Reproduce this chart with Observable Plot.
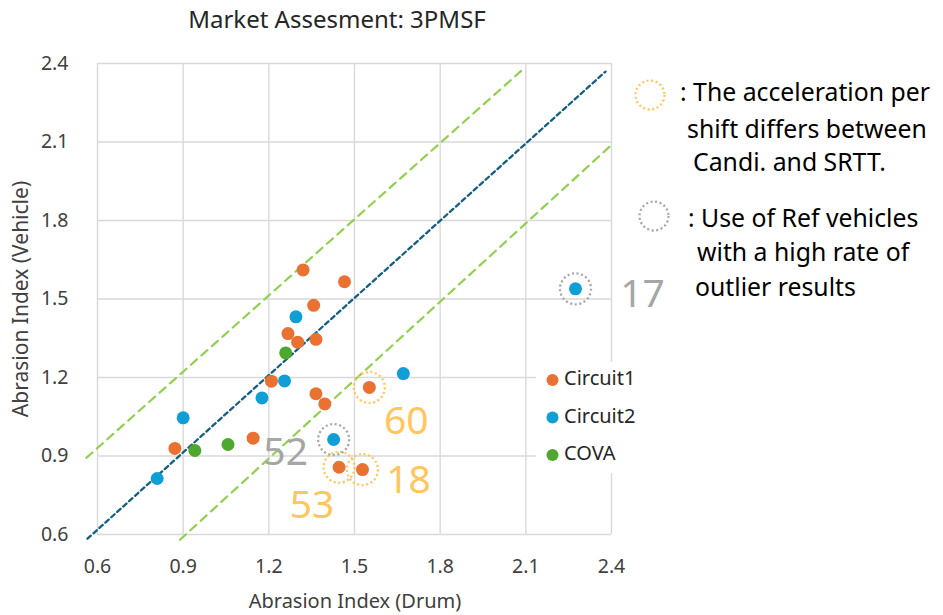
<!DOCTYPE html>
<html>
<head>
<meta charset="utf-8">
<script src="https://cdn.jsdelivr.net/npm/d3@7"></script>
<script src="https://cdn.jsdelivr.net/npm/@observablehq/plot@0.6"></script>
<style>
  html, body { margin: 0; padding: 0; background: #fff; }
  #chart { width: 943px; height: 615px; }
</style>
</head>
<body>
<div id="chart"></div>
<script>
// ---- data ----
const seriesNames = ["Circuit1", "Circuit2", "COVA"];
const seriesColors = ["#E97132", "#0F9ED5", "#4EA72E"];

const circuit1X = [1.32, 1.465, 1.357, 1.267, 1.301, 1.365, 1.209, 1.365, 1.396, 1.552, 1.145, 0.871, 1.446, 1.528];
const circuit1Y = [1.611, 1.566, 1.476, 1.368, 1.335, 1.346, 1.186, 1.138, 1.099, 1.162, 0.968, 0.929, 0.857, 0.848];

const circuit2X = [1.295, 1.255, 1.176, 0.90, 0.809, 1.427, 1.671, 2.274];
const circuit2Y = [1.432, 1.187, 1.122, 1.046, 0.814, 0.963, 1.215, 1.539];

const covaX = [1.259, 1.057, 0.941];
const covaY = [1.294, 0.944, 0.921];

const tickValues = [0.6, 0.9, 1.2, 1.5, 1.8, 2.1, 2.4];

// reference lines (end points)
const diagX = [0.565, 2.379], diagY = [0.584, 2.369];
const upperX = [0.561, 2.085], upperY = [0.893, 2.373];
const lowerX = [0.889, 2.397], lowerY = [0.580, 2.086];

// annotated points
const annotIds = ["60", "18", "53", "52", "17"];
const annotX = [1.552, 1.528, 1.446, 1.427, 2.274];
const annotY = [1.162, 0.848, 0.857, 0.963, 1.539];
const annotKind = ["accel", "accel", "accel", "outlier", "outlier"];

const titleText = "Market Assesment: 3PMSF";
const xTitle = "Abrasion Index (Drum)";
const yTitle = "Abrasion Index (Vehicle)";
const noteAccel = [": The acceleration per", "shift differs between", "Candi. and SRTT."];
const noteOutlier = [": Use of Ref vehicles", "with a high rate of", "outlier results"];

// ---- build tables ----
const points = [
  ...circuit1X.map((x, i) => ({x, y: circuit1Y[i], series: "Circuit1"})),
  ...circuit2X.map((x, i) => ({x, y: circuit2Y[i], series: "Circuit2"})),
  ...covaX.map((x, i) => ({x, y: covaY[i], series: "COVA"}))
];
const line = (xs, ys) => xs.map((x, i) => ({x, y: ys[i]}));
const annots = annotIds.map((id, i) => ({id, x: annotX[i], y: annotY[i], kind: annotKind[i]}));

const ACCEL = "#FFC65C";
const OUTL = "#A6A6A6";
const FONT = "'Noto Sans', 'Open Sans', sans-serif";

const labelOffsets = {"60": [37, 34], "18": [46, 11], "53": [-27, 38], "52": [-48, 13], "17": [67, 6]};

const svg = Plot.plot({
  width: 943,
  height: 615,
  marginLeft: 97,
  marginRight: 332,
  marginTop: 63,
  marginBottom: 81,
  style: {fontFamily: FONT, background: "#fff", overflow: "visible"},
  x: {domain: [0.6, 2.4], label: null},
  y: {domain: [0.6, 2.4], label: null},
  color: {domain: seriesNames, range: seriesColors},
  marks: [
    Plot.gridX(tickValues, {stroke: "#D9D9D9", strokeOpacity: 1, strokeWidth: 1.4}),
    Plot.gridY(tickValues, {stroke: "#D9D9D9", strokeOpacity: 1, strokeWidth: 1.4}),
    Plot.axisX({ticks: tickValues, tickSize: 0, tickPadding: 25, fontSize: 19.5, fill: "#404040", tickFormat: d => d.toFixed(1), label: null}),
    Plot.axisY({ticks: tickValues, tickSize: 0, tickPadding: 29, fontSize: 19.5, fill: "#404040", tickFormat: d => d.toFixed(1), label: null}),
    Plot.line(line(upperX, upperY), {x: "x", y: "y", stroke: "#92D050", strokeWidth: 2.2, strokeDasharray: "8 6", clip: false}),
    Plot.line(line(lowerX, lowerY), {x: "x", y: "y", stroke: "#92D050", strokeWidth: 2.2, strokeDasharray: "8 6", clip: false}),
    Plot.line(line(diagX, diagY), {x: "x", y: "y", stroke: "#156082", strokeWidth: 2.3, strokeDasharray: "4.5 3.5", clip: false}),
    Plot.dot(points, {x: "x", y: "y", fill: "series", r: 6.5, stroke: "none"}),
    Plot.dot(annots, {x: "x", y: "y", r: 15.5, fill: "none", stroke: d => d.kind === "accel" ? ACCEL : OUTL, strokeWidth: 2.3, strokeDasharray: "2 2.6"}),
    ...annots.map(a => Plot.text([a], {
      x: "x", y: "y", text: "id",
      dx: labelOffsets[a.id][0], dy: labelOffsets[a.id][1],
      fontSize: 39, fill: a.kind === "accel" ? ACCEL : OUTL, textAnchor: "middle"
    }))
  ]
});

const root = d3.select(svg);

function addText(x, y, t, size, fill, anchor) {
  return root.append("text").attr("x", x).attr("y", y)
    .attr("text-anchor", anchor || "start")
    .attr("dominant-baseline", "middle")
    .attr("font-size", size).attr("fill", fill)
    .attr("font-family", FONT).text(t);
}

// titles
addText(337, 22, titleText, 24, "#262626", "middle");
addText(355, 603, xTitle, 20, "#404040", "middle");
root.append("text").attr("transform", "translate(22,299) rotate(-90)").attr("text-anchor", "middle")
  .attr("dominant-baseline", "middle").attr("font-size", 21).attr("fill", "#404040")
  .attr("font-family", FONT).text(yTitle);

// legend with white box
root.append("rect").attr("x", 536).attr("y", 362).attr("width", 92).attr("height", 111).attr("fill", "#fff");
const legendY = [380, 417.5, 455];
seriesNames.forEach((name, i) => {
  root.append("circle").attr("cx", 552.5).attr("cy", legendY[i]).attr("r", 6).attr("fill", seriesColors[i]);
  addText(564, legendY[i], name, 20, "#262626");
});

// right-hand notes
root.append("circle").attr("cx", 650).attr("cy", 95).attr("r", 14.5).attr("fill", "none")
  .attr("stroke", ACCEL).attr("stroke-width", 2.3).attr("stroke-dasharray", "2 2.6");
root.append("circle").attr("cx", 654).attr("cy", 216).attr("r", 14.5).attr("fill", "none")
  .attr("stroke", OUTL).attr("stroke-width", 2.3).attr("stroke-dasharray", "2 2.6");
const accelPos = [[680, 94], [687, 131], [693, 164]];
const outPos = [[688, 220], [697, 254], [695, 289]];
noteAccel.forEach((t, i) => addText(accelPos[i][0], accelPos[i][1], t, 24.8, "#000"));
noteOutlier.forEach((t, i) => addText(outPos[i][0], outPos[i][1], t, 24.8, "#000"));

document.getElementById("chart").appendChild(svg);
</script>
</body>
</html>
